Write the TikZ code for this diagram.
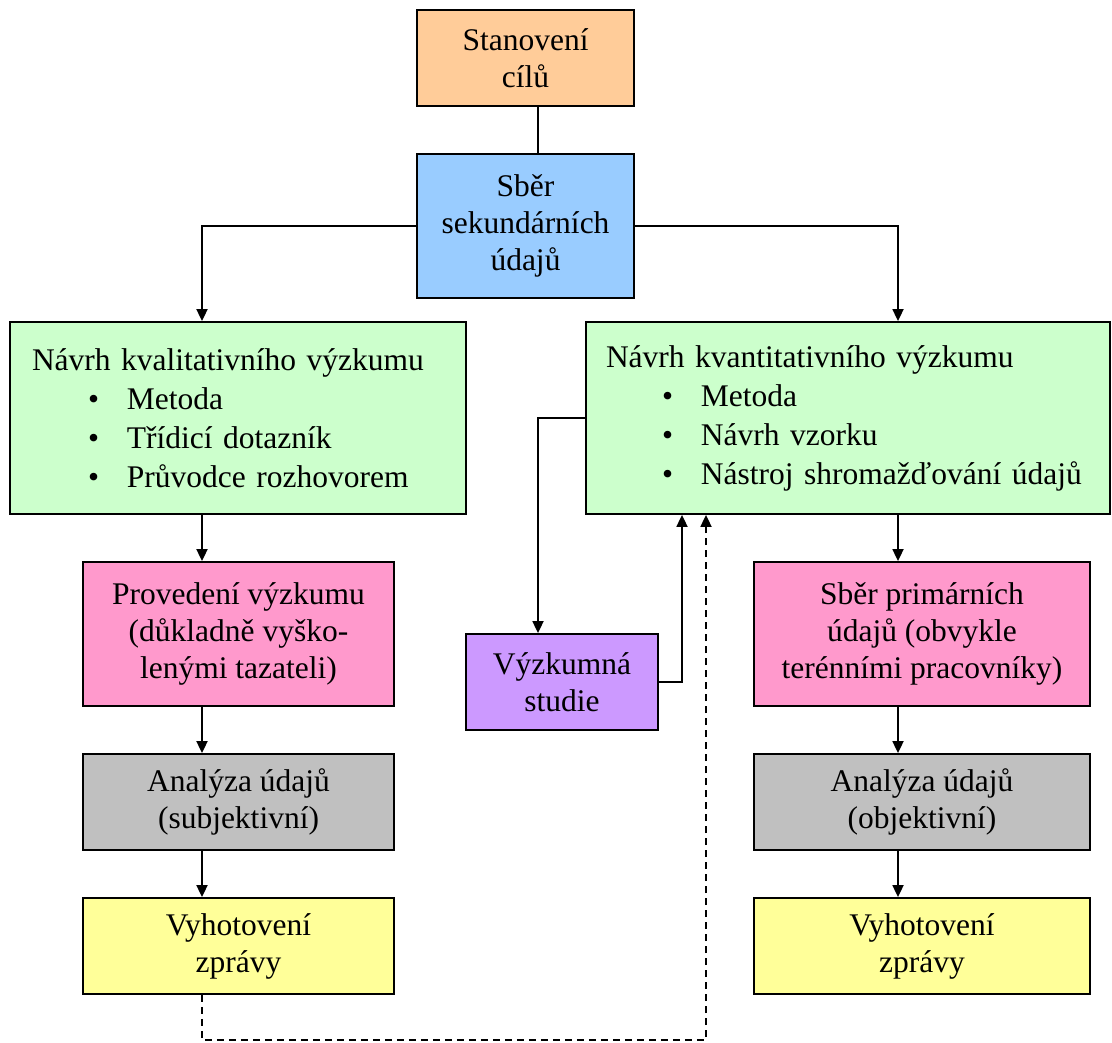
\documentclass[tikz,border=0pt]{standalone}
\usepackage{fontspec}
\setmainfont{Liberation Serif}
\usetikzlibrary{arrows.meta}
\definecolor{cOrange}{HTML}{FFCC99}
\definecolor{cBlue}{HTML}{99CCFF}
\definecolor{cGreen}{HTML}{CCFFCC}
\definecolor{cPink}{HTML}{FF99CC}
\definecolor{cPurple}{HTML}{CC99FF}
\definecolor{cGray}{HTML}{C0C0C0}
\definecolor{cYellow}{HTML}{FFFF99}
\newcommand{\bitem}[1]{\hspace*{56pt}\makebox[39pt][l]{•}#1}
\begin{document}
\begin{tikzpicture}[x=1pt,y=-1pt,
  box/.style={draw=black, line width=1.8pt, inner sep=0pt, align=center,
    font=\fontsize{31.5}{37}\selectfont},
  listbox/.style={draw=black, line width=1.8pt, inner ysep=0pt, align=left,
    font=\fontsize{31.5}{39}\selectfont},
  conn/.style={line width=1.8pt},
  arr/.style={conn, -{Triangle[length=12pt,width=11pt]}},
  darr/.style={arr, dash pattern=on 7pt off 5pt}]
\useasboundingbox (0,0) rectangle (1112,1043);

\node[box, fill=cOrange, minimum width=217, minimum height=96] (s) at (525.5,58) {Stanovení\\cílů};
\node[box, fill=cBlue, minimum width=217, minimum height=144] (sb) at (525.5,226) {Sběr\\sekundárních\\údajů};
\node[listbox, fill=cGreen, inner xsep=22pt, text width=412pt, minimum height=192] (kval) at (238,418)
  {Návrh kvalitativního výzkumu\\ \bitem{Metoda}\\ \bitem{Třídicí dotazník}\\ \bitem{Průvodce rozhovorem}};
\node[listbox, fill=cGreen, inner xsep=20pt, text width=484pt, minimum height=192] (kvant) at (848,418)
  {Návrh kvantitativního výzkumu\\ \bitem{Metoda}\\ \bitem{Návrh vzorku}\\ \bitem{Nástroj shromažďování údajů}};
\node[box, fill=cPink, minimum width=311, minimum height=144] (prov) at (238.5,634) {Provedení výzkumu\\(důkladně vyško-\\lenými tazateli)};
\node[box, fill=cPurple, minimum width=192, minimum height=96] (vs) at (562,682) {Výzkumná\\studie};
\node[box, fill=cPink, minimum width=336, minimum height=144] (sp) at (922,634) {Sběr primárních\\údajů (obvykle\\terénními pracovníky)};
\node[box, fill=cGray, minimum width=311, minimum height=96] (al) at (238.5,802) {Analýza údajů\\(subjektivní)};
\node[box, fill=cGray, minimum width=336, minimum height=96] (ar) at (922,802) {Analýza údajů\\(objektivní)};
\node[box, fill=cYellow, minimum width=311, minimum height=96] (zl) at (238.5,946) {Vyhotovení\\zprávy};
\node[box, fill=cYellow, minimum width=336, minimum height=96] (zr) at (922,946) {Vyhotovení\\zprávy};

\coordinate (cl) at (202,0);
\coordinate (cr) at (898,0);
\coordinate (cm) at (538,0);
\coordinate (cu) at (682,0);
\coordinate (cd) at (706,0);
\coordinate (dcorner) at (202,1040);

\draw[conn] (s.south -| cm) -- (sb.north -| cm);
\draw[arr] (sb.west) -| (kval.north -| cl);
\draw[arr] (sb.east) -| (kvant.north -| cr);
\draw[arr] (kval.south -| cl) -- (prov.north -| cl);
\draw[arr] (prov.south -| cl) -- (al.north -| cl);
\draw[arr] (al.south -| cl) -- (zl.north -| cl);
\draw[arr] (kvant.south -| cr) -- (sp.north -| cr);
\draw[arr] (sp.south -| cr) -- (ar.north -| cr);
\draw[arr] (ar.south -| cr) -- (zr.north -| cr);
\draw[arr] (kvant.west) -| (vs.north -| cm);
\draw[arr] (vs.east) -| (kvant.south -| cu);
\draw[darr] (zl.south -| cl) -- (dcorner) -| (kvant.south -| cd);
\end{tikzpicture}
\end{document}
